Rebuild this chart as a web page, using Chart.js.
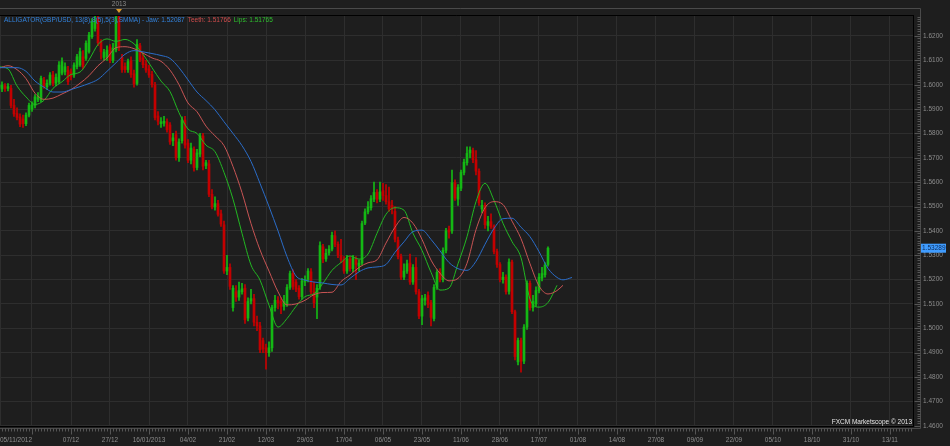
<!DOCTYPE html>
<html>
<head>
<meta charset="utf-8">
<title>GBP/USD Alligator</title>
<script src="https://cdn.jsdelivr.net/npm/chart.js@4.4.1/dist/chart.umd.min.js"></script>
<style>
  html, body { margin: 0; padding: 0; background: #1e1e1e; }
  #wrap { position: relative; width: 950px; height: 446px; overflow: hidden; }
  #chart { display: block; }
  .overlay {
    position: absolute;
    font-family: "Liberation Sans", Arial, sans-serif;
    font-size: 6.5px;
    line-height: 8px;
    white-space: nowrap;
  }
  #legend { left: 4px; top: 16px; }
  #legend .jaw { color: #3282dc; }
  #legend .teeth { color: #d24c4c; margin-left: 3px; }
  #legend .lips { color: #2ec02e; margin-left: 3px; }
  #watermark { right: 38px; top: 418px; color: #e4e4e4; }
</style>
</head>
<body>
<div id="wrap">
  <canvas id="chart" width="950" height="446"></canvas>
  <div id="legend" class="overlay"></div>
  <div id="watermark" class="overlay">FXCM Marketscope © 2013</div>
</div>
<script>
// daily GBP/USD bars, bar 0 = 05/11/2012, last bar = 22/07/2013
const opens = [
  1.5990, 1.5982, 1.5996, 1.5985, 1.5985, 1.5915, 1.5882, 1.5868, 1.5860, 1.5840,
  1.5875, 1.5900, 1.5915, 1.5940, 1.5937, 1.6019, 1.5992, 1.6006, 1.6040, 1.6006,
  1.6012, 1.6047, 1.6053, 1.6060, 1.6053, 1.6040, 1.6074, 1.6081, 1.6115, 1.6108,
  1.6136, 1.6197, 1.6231, 1.6270, 1.6178, 1.6112, 1.6112, 1.6155, 1.6100, 1.6143,
  1.6280, 1.6112, 1.6075, 1.6062, 1.6098, 1.6045, 1.6005, 1.6160, 1.6110, 1.6085,
  1.6065, 1.6042, 1.6000, 1.5872, 1.5840, 1.5842, 1.5848, 1.5835, 1.5770, 1.5795,
  1.5700, 1.5770, 1.5855, 1.5760, 1.5690, 1.5735, 1.5660, 1.5715, 1.5790, 1.5668,
  1.5675, 1.5550, 1.5498, 1.5512, 1.5470, 1.5425, 1.5235, 1.5250, 1.5085, 1.5150,
  1.5128, 1.5150, 1.5165, 1.5042, 1.5112, 1.5122, 1.5025, 1.5010, 1.4950, 1.4920,
  1.4900, 1.4920, 1.5085, 1.5115, 1.5110, 1.5090, 1.5100, 1.5168, 1.5225, 1.5190,
  1.5165, 1.5130, 1.5190, 1.5200, 1.5232, 1.5150, 1.5128, 1.5170, 1.5335, 1.5285,
  1.5310, 1.5325, 1.5380, 1.5345, 1.5300, 1.5282, 1.5235, 1.5285, 1.5245, 1.5285,
  1.5255, 1.5268, 1.5432, 1.5478, 1.5495, 1.5530, 1.5558, 1.5530, 1.5565, 1.5545,
  1.5520, 1.5505, 1.5480, 1.5362, 1.5295, 1.5210, 1.5235, 1.5268, 1.5190, 1.5250,
  1.5150, 1.5050, 1.5115, 1.5135, 1.5105, 1.5040, 1.5168, 1.5230, 1.5200, 1.5320,
  1.5405, 1.5400, 1.5598, 1.5530, 1.5575, 1.5640, 1.5680, 1.5720, 1.5730, 1.5692,
  1.5645, 1.5490, 1.5505, 1.5422, 1.5438, 1.5418, 1.5315, 1.5262, 1.5200, 1.5210,
  1.5152, 1.5272, 1.5068, 1.4862, 1.4950, 1.4865, 1.5005, 1.5185, 1.5085, 1.5100,
  1.5155, 1.5206, 1.5220, 1.5262
];
const highs = [
  1.6010, 1.6012, 1.6005, 1.6005, 1.5998, 1.5940, 1.5905, 1.5880, 1.5875, 1.5885,
  1.5925, 1.5930, 1.5960, 1.5968, 1.6035, 1.6030, 1.6020, 1.6050, 1.6055, 1.6045,
  1.6095, 1.6110, 1.6090, 1.6075, 1.6065, 1.6090, 1.6125, 1.6150, 1.6140, 1.6180,
  1.6215, 1.6272, 1.6290, 1.6300, 1.6185, 1.6145, 1.6160, 1.6165, 1.6170, 1.6300,
  1.6320, 1.6125, 1.6090, 1.6105, 1.6114, 1.6060, 1.6185, 1.6170, 1.6130, 1.6100,
  1.6080, 1.6055, 1.6010, 1.5890, 1.5865, 1.5870, 1.5860, 1.5845, 1.5800, 1.5810,
  1.5778, 1.5868, 1.5870, 1.5775, 1.5760, 1.5745, 1.5735, 1.5800, 1.5800, 1.5690,
  1.5690, 1.5570, 1.5540, 1.5525, 1.5485, 1.5440, 1.5300, 1.5265, 1.5175, 1.5175,
  1.5190, 1.5185, 1.5180, 1.5125, 1.5160, 1.5140, 1.5050, 1.5025, 1.4960, 1.4935,
  1.4945, 1.5095, 1.5135, 1.5130, 1.5125, 1.5135, 1.5180, 1.5235, 1.5240, 1.5200,
  1.5175, 1.5205, 1.5215, 1.5245, 1.5245, 1.5190, 1.5180, 1.5355, 1.5345, 1.5325,
  1.5340, 1.5395, 1.5400, 1.5355, 1.5365, 1.5295, 1.5300, 1.5295, 1.5300, 1.5295,
  1.5280, 1.5440, 1.5490, 1.5520, 1.5545, 1.5600, 1.5570, 1.5600, 1.5595, 1.5590,
  1.5580, 1.5525, 1.5500, 1.5375, 1.5305, 1.5265, 1.5280, 1.5305, 1.5262, 1.5290,
  1.5160, 1.5135, 1.5140, 1.5150, 1.5115, 1.5180, 1.5240, 1.5245, 1.5330, 1.5410,
  1.5420, 1.5650, 1.5610, 1.5590, 1.5650, 1.5695, 1.5745, 1.5745, 1.5740, 1.5730,
  1.5655, 1.5525, 1.5515, 1.5460, 1.5470, 1.5425, 1.5325, 1.5270, 1.5230, 1.5220,
  1.5285, 1.5280, 1.5075, 1.4960, 1.4960, 1.5015, 1.5195, 1.5195, 1.5135, 1.5170,
  1.5225, 1.5250, 1.5270, 1.5335
];
const lows = [
  1.5975, 1.5971, 1.5972, 1.5975, 1.5905, 1.5870, 1.5855, 1.5828, 1.5825, 1.5832,
  1.5868, 1.5890, 1.5905, 1.5930, 1.5930, 1.5985, 1.5980, 1.5998, 1.5995, 1.5995,
  1.6005, 1.6040, 1.6040, 1.6000, 1.6020, 1.6030, 1.6065, 1.6075, 1.6065, 1.6100,
  1.6130, 1.6190, 1.6220, 1.6160, 1.6105, 1.6100, 1.6100, 1.6090, 1.6090, 1.6135,
  1.6140, 1.6050, 1.6050, 1.6050, 1.6030, 1.5990, 1.5998, 1.6095, 1.6070, 1.6050,
  1.6030, 1.5990, 1.5855, 1.5835, 1.5825, 1.5830, 1.5805, 1.5755, 1.5750, 1.5690,
  1.5685, 1.5760, 1.5740, 1.5680, 1.5675, 1.5645, 1.5650, 1.5705, 1.5650, 1.5655,
  1.5540, 1.5490, 1.5485, 1.5460, 1.5418, 1.5225, 1.5220, 1.5160, 1.5070, 1.5110,
  1.5115, 1.5140, 1.5020, 1.5030, 1.5100, 1.5010, 1.4990, 1.4900, 1.4900, 1.4832,
  1.4885, 1.4905, 1.5070, 1.5080, 1.5060, 1.5075, 1.5090, 1.5160, 1.5160, 1.5150,
  1.5120, 1.5120, 1.5175, 1.5190, 1.5140, 1.5085, 1.5040, 1.5160, 1.5270, 1.5275,
  1.5300, 1.5318, 1.5335, 1.5290, 1.5270, 1.5225, 1.5225, 1.5235, 1.5232, 1.5200,
  1.5235, 1.5260, 1.5425, 1.5470, 1.5485, 1.5520, 1.5515, 1.5520, 1.5525, 1.5510,
  1.5480, 1.5470, 1.5355, 1.5285, 1.5200, 1.5200, 1.5225, 1.5180, 1.5180, 1.5140,
  1.5040, 1.5015, 1.5095, 1.5085, 1.5010, 1.5030, 1.5160, 1.5190, 1.5190, 1.5310,
  1.5370, 1.5390, 1.5525, 1.5505, 1.5565, 1.5630, 1.5670, 1.5700, 1.5680, 1.5630,
  1.5505, 1.5475, 1.5410, 1.5400, 1.5410, 1.5305, 1.5250, 1.5190, 1.5185, 1.5140,
  1.5140, 1.5060, 1.4870, 1.4850, 1.4820, 1.4855, 1.4995, 1.5075, 1.5070, 1.5090,
  1.5145, 1.5195, 1.5210, 1.5255
];
const closes = [
  1.6000, 1.5999, 1.5985, 1.5992, 1.5915, 1.5880, 1.5866, 1.5838, 1.5840, 1.5875,
  1.5915, 1.5918, 1.5950, 1.5952, 1.6026, 1.5992, 1.6006, 1.6040, 1.6006, 1.6030,
  1.6081, 1.6095, 1.6074, 1.6012, 1.6033, 1.6081, 1.6115, 1.6136, 1.6074, 1.6170,
  1.6204, 1.6259, 1.6265, 1.6172, 1.6135, 1.6134, 1.6142, 1.6100, 1.6150, 1.6278,
  1.6155, 1.6062, 1.6062, 1.6095, 1.6042, 1.6003, 1.6165, 1.6103, 1.6082, 1.6060,
  1.6040, 1.6000, 1.5865, 1.5850, 1.5848, 1.5850, 1.5815, 1.5765, 1.5782, 1.5700,
  1.5765, 1.5855, 1.5752, 1.5690, 1.5740, 1.5660, 1.5720, 1.5790, 1.5665, 1.5680,
  1.5550, 1.5498, 1.5512, 1.5468, 1.5428, 1.5235, 1.5250, 1.5172, 1.5165, 1.5128,
  1.5155, 1.5162, 1.5035, 1.5110, 1.5122, 1.5025, 1.5010, 1.4912, 1.4915, 1.4900,
  1.4920, 1.5085, 1.5115, 1.5105, 1.5090, 1.5110, 1.5168, 1.5225, 1.5172, 1.5160,
  1.5130, 1.5195, 1.5200, 1.5235, 1.5150, 1.5105, 1.5165, 1.5340, 1.5285, 1.5308,
  1.5325, 1.5382, 1.5345, 1.5300, 1.5282, 1.5235, 1.5285, 1.5245, 1.5290, 1.5262,
  1.5268, 1.5430, 1.5478, 1.5498, 1.5532, 1.5558, 1.5530, 1.5560, 1.5545, 1.5520,
  1.5490, 1.5490, 1.5365, 1.5295, 1.5210, 1.5235, 1.5265, 1.5190, 1.5250, 1.5150,
  1.5050, 1.5122, 1.5125, 1.5098, 1.5045, 1.5168, 1.5230, 1.5200, 1.5320, 1.5400,
  1.5395, 1.5598, 1.5535, 1.5578, 1.5640, 1.5682, 1.5718, 1.5732, 1.5692, 1.5645,
  1.5515, 1.5505, 1.5425, 1.5438, 1.5418, 1.5315, 1.5262, 1.5200, 1.5210, 1.5150,
  1.5272, 1.5068, 1.4884, 1.4950, 1.4865, 1.5005, 1.5185, 1.5085, 1.5110, 1.5155,
  1.5210, 1.5225, 1.5260, 1.53289
];

// alligator lines, one value every third bar (jaw runs 8 bars ahead, teeth 5, lips 3)
const lineBars = [
  0, 3, 6, 9, 12, 15, 18, 21, 24, 27, 30, 33, 36, 39, 42, 45, 48, 51, 54, 57,
  60, 63, 66, 69, 72, 75, 78, 81, 84, 87, 90, 93, 96, 99, 102, 105, 108, 111, 114, 117,
  120, 123, 126, 129, 132, 135, 138, 141, 144, 147, 150, 153, 156, 159, 162, 165, 168, 171, 174, 177,
  180, 183, 186, 188, 191
];
const jaw = [
  1.6070, 1.6070, 1.6070, 1.6055, 1.6015, 1.5990, 1.5970, 1.5970, 1.5980, 1.5992,
  1.6005, 1.6022, 1.6055, 1.6090, 1.6125, 1.6140, 1.6135, 1.6128, 1.6120, 1.6108,
  1.6070, 1.6020, 1.5970, 1.5935, 1.5897, 1.5848, 1.5800, 1.5750, 1.5685, 1.5595,
  1.5500, 1.5400, 1.5294, 1.5215, 1.5198, 1.5190, 1.5186, 1.5180, 1.5178, 1.5205,
  1.5232, 1.5248, 1.5252, 1.5262, 1.5312, 1.5355, 1.5397, 1.5403, 1.5365, 1.5318,
  1.5270, 1.5245, 1.5238, 1.5275, 1.5345, 1.5410, 1.5450, 1.5452, 1.5415, 1.5376,
  1.5315, 1.5246, 1.5209, 1.5199, 1.52087
];
const teeth = [
  1.6068, 1.6078, 1.6062, 1.6025, 1.5965, 1.5940, 1.5945, 1.5962, 1.5980, 1.6006,
  1.6037, 1.6078, 1.6110, 1.6152, 1.6156, 1.6148, 1.6130, 1.6110, 1.6096, 1.6060,
  1.6000, 1.5925, 1.5889, 1.5830, 1.5790, 1.5750, 1.5664, 1.5557, 1.5430, 1.5322,
  1.5235, 1.5150, 1.5096, 1.5100, 1.5115, 1.5138, 1.5147, 1.5148, 1.5192, 1.5219,
  1.5250, 1.5269, 1.5281, 1.5350, 1.5415, 1.5455, 1.5431, 1.5365, 1.5280, 1.5226,
  1.5195, 1.5205, 1.5267, 1.5405, 1.5495, 1.5520, 1.5508, 1.5440, 1.5368, 1.5265,
  1.5174, 1.5141, 1.5155, 1.51766, null
];
const lips = [
  1.6074, 1.6065, 1.5995, 1.5950, 1.5919, 1.5936, 1.5985, 1.6012, 1.6042, 1.6052,
  1.6102, 1.6165, 1.6188, 1.6178, 1.6186, 1.6168, 1.6125, 1.6070, 1.6015, 1.5972,
  1.5885, 1.5818, 1.5800, 1.5752, 1.5725, 1.5640, 1.5530, 1.5390, 1.5260, 1.5198,
  1.5095, 1.5005, 1.5040, 1.5090, 1.5130, 1.5142, 1.5185, 1.5238, 1.5270, 1.5297,
  1.5284, 1.5305, 1.5390, 1.5468, 1.5495, 1.5485, 1.5390, 1.5320, 1.5230, 1.5157,
  1.5165, 1.5265, 1.5376, 1.5520, 1.5595, 1.5525, 1.5431, 1.5356, 1.5290, 1.5120,
  1.5087, 1.5106, 1.51765, null, null
];

// time axis: bar index of each date gridline and its label
const xTickBars = [
  11, 24, 37, 50, 63, 76, 89, 102, 115, 128, 141, 154,
  167, 180, 193, 206, 219, 232, 245, 258, 271, 284, 297
];
const xTickLabels = [
  "", "07/12", "27/12", "16/01/2013", "04/02", "21/02", "12/03", "29/03", "17/04", "06/05", "23/05", "11/06",
  "28/06", "17/07", "01/08", "14/08", "27/08", "09/09", "22/09", "05/10", "18/10", "31/10", "13/11"
];
const firstBarLabel = "05/11/2012";
const yearBar = 40;
const yearLabel = "2013";
const yTicks = [
  1.46, 1.47, 1.48, 1.49, 1.50, 1.51, 1.52, 1.53, 1.54,
  1.55, 1.56, 1.57, 1.58, 1.59, 1.60, 1.61, 1.62
];

const VIEW_FIRST = 1 / 3;
const VIEW_LAST = 914 / 3;
const PRICE_MIN = 1.4599;
const PRICE_MAX = 1.62862;

const BG = "#1e1e1e";
const GRID = "#2e2e2e";
const LABEL = "#8c8c8c";
const UP = "#14b814";
const DOWN = "#c40000";
const FONT = { family: "'Liberation Sans', Arial, sans-serif", size: 6.5 };

const bars = opens.map((_, i) => i);
const isUp = (i) => closes[i] >= opens[i];
const candleColor = (ctx) => (isUp(ctx.dataIndex) ? UP : DOWN);

const linePoints = (values) =>
  lineBars.map((bar, i) => ({ x: bar, y: values[i] }));

function lastValue(values) {
  const known = values.filter((v) => v !== null);
  return known[known.length - 1];
}

document.querySelector("#legend").innerHTML =
  `<span class="jaw">ALLIGATOR(GBP/USD, 13(8),8(5),5(3),SMMA) - Jaw: ${lastValue(jaw).toFixed(5)}</span>` +
  `<span class="teeth">Teeth: ${lastValue(teeth).toFixed(5)}</span>` +
  `<span class="lips">Lips: ${lastValue(lips).toFixed(5)}</span>`;

const chartFrame = {
  id: "chartFrame",
  beforeDraw(chart) {
    const { ctx, width, height } = chart;
    ctx.save();
    ctx.fillStyle = BG;
    ctx.fillRect(0, 0, width, height);
    ctx.restore();
  },
  afterDraw(chart) {
    const { ctx, chartArea: area } = chart;
    const xs = chart.scales.x;
    const ys = chart.scales.y;
    const outerRight = Math.round(area.right) + 7.5;
    const outerBottom = Math.round(area.bottom) + 2.5;

    ctx.save();
    ctx.lineWidth = 1;

    // outer grey frame
    ctx.strokeStyle = "#4a4a4a";
    ctx.beginPath();
    ctx.moveTo(0, 8.5);
    ctx.lineTo(outerRight, 8.5);
    ctx.lineTo(outerRight, outerBottom);
    ctx.lineTo(0, outerBottom);
    ctx.stroke();

    // top edge of the plot
    ctx.strokeStyle = "#000";
    ctx.beginPath();
    ctx.moveTo(0, Math.round(area.top) + 0.5);
    ctx.lineTo(Math.round(area.right) + 0.5, Math.round(area.top) + 0.5);
    ctx.stroke();

    // minor ticks on the time axis, one per bar
    ctx.strokeStyle = "#555";
    ctx.beginPath();
    for (let bar = Math.ceil(VIEW_FIRST); bar <= VIEW_LAST; bar++) {
      const px = Math.round(xs.getPixelForValue(bar)) + 0.5;
      const major = xTickBars.includes(bar);
      ctx.moveTo(px, outerBottom);
      ctx.lineTo(px, outerBottom + (major ? 6 : 3));
    }
    ctx.stroke();

    // minor ticks on the price axis
    ctx.beginPath();
    for (let k = Math.ceil(PRICE_MIN * 1000); k <= PRICE_MAX * 1000; k++) {
      const py = Math.round(ys.getPixelForValue(k / 1000)) + 0.5;
      const major = k % 10 === 0;
      ctx.moveTo(outerRight, py);
      ctx.lineTo(outerRight - (major ? 6 : 3), py);
    }
    ctx.stroke();

    // year marker
    const yx = xs.getPixelForValue(yearBar);
    ctx.fillStyle = "#8a8a8a";
    ctx.font = `${FONT.size}px ${FONT.family}`;
    ctx.textAlign = "center";
    ctx.textBaseline = "middle";
    ctx.fillText(yearLabel, yx, 4.5);
    ctx.fillStyle = "#d99a2b";
    ctx.beginPath();
    ctx.moveTo(yx - 3, 9);
    ctx.lineTo(yx + 3, 9);
    ctx.lineTo(yx, 13);
    ctx.closePath();
    ctx.fill();

    // last price tag
    const last = closes[closes.length - 1];
    const py = ys.getPixelForValue(last);
    ctx.fillStyle = "#3f9cff";
    ctx.fillRect(outerRight + 0.5, py - 4.5, 25, 9);
    ctx.fillStyle = "#0d2a55";
    ctx.textAlign = "left";
    ctx.fillText(last.toFixed(5), outerRight + 1.5, py + 0.5);

    ctx.restore();
  },
};

new Chart(document.querySelector("#chart"), {
  type: "bar",
  data: {
    datasets: [
      {
        type: "line",
        label: "Jaw",
        data: linePoints(jaw),
        borderColor: "#2a6cc8",
        borderWidth: 1,
        pointRadius: 0,
        cubicInterpolationMode: "monotone",
        order: 0,
      },
      {
        type: "line",
        label: "Teeth",
        data: linePoints(teeth),
        borderColor: "#c85454",
        borderWidth: 1,
        pointRadius: 0,
        cubicInterpolationMode: "monotone",
        order: 0,
      },
      {
        type: "line",
        label: "Lips",
        data: linePoints(lips),
        borderColor: "#22b822",
        borderWidth: 1,
        pointRadius: 0,
        cubicInterpolationMode: "monotone",
        order: 0,
      },
      {
        label: "Body",
        data: bars.map((i) => ({ x: i, y: [opens[i], closes[i]] })),
        backgroundColor: candleColor,
        barThickness: 2,
        minBarLength: 1,
        grouped: false,
        order: 1,
      },
      {
        label: "Wick",
        data: bars.map((i) => ({ x: i, y: [lows[i], highs[i]] })),
        backgroundColor: candleColor,
        barThickness: 1,
        grouped: false,
        order: 2,
      },
    ],
  },
  options: {
    responsive: false,
    animation: false,
    devicePixelRatio: 1,
    events: [],
    layout: { padding: { top: 15, left: 0, right: 0, bottom: 0 } },
    plugins: {
      legend: { display: false },
      tooltip: { enabled: false },
    },
    scales: {
      x: {
        type: "linear",
        min: VIEW_FIRST,
        max: VIEW_LAST,
        offset: false,
        afterBuildTicks(scale) {
          scale.ticks = [VIEW_FIRST, ...xTickBars, VIEW_LAST].map((value) => ({ value }));
        },
        afterFit(scale) {
          // keep the plot flush with the left edge like the original terminal
          scale.height = 20;
          scale.paddingLeft = 0;
          scale.paddingRight = 0;
        },
        grid: { color: GRID, offset: false, drawTicks: false },
        border: { color: "#000" },
        ticks: {
          autoSkip: false,
          maxRotation: 0,
          align: "inner",
          padding: 10,
          color: LABEL,
          font: FONT,
          callback(value) {
            if (value === VIEW_FIRST) return firstBarLabel;
            const k = xTickBars.indexOf(value);
            return k >= 0 ? xTickLabels[k] : "";
          },
        },
      },
      y: {
        type: "linear",
        position: "right",
        min: PRICE_MIN,
        max: PRICE_MAX,
        beginAtZero: false,
        afterBuildTicks(scale) {
          scale.ticks = yTicks.map((value) => ({ value }));
        },
        afterFit(scale) {
          scale.width = 37;
          scale.paddingTop = 0;
          scale.paddingBottom = 0;
        },
        grid: { color: GRID, drawTicks: false },
        border: { color: "#000" },
        ticks: {
          padding: 10,
          color: LABEL,
          font: FONT,
          callback: (value) => value.toFixed(4),
        },
      },
    },
  },
  plugins: [chartFrame],
});
</script>
</body>
</html>
